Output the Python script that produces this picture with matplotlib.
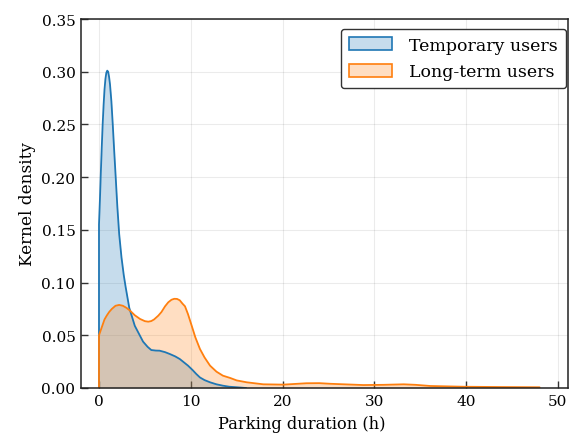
import matplotlib
matplotlib.use('Agg')
import matplotlib.pyplot as plt
from matplotlib.patches import Patch
from matplotlib.colors import to_rgba

# kernel density estimates
temp_x = [0, 0, 0.1, 0.2, 0.3, 0.4, 0.5, 0.6, 0.7, 0.8, 0.9, 1.0, 1.1, 1.2, 1.35, 1.5,
          1.65, 1.82, 2.0, 2.2, 2.45, 2.7, 2.9, 3.3, 3.9, 4.8, 5.3, 5.7, 6.2, 6.6, 7.2,
          7.7, 8.3, 8.8, 9.3, 9.7, 10.2, 10.6, 11.0, 11.5, 12.1, 12.8, 13.5, 14.2, 15.0, 16.0]
temp_y = [0, 0.155, 0.178, 0.204, 0.228, 0.250, 0.268, 0.283, 0.293, 0.299, 0.301, 0.300,
          0.295, 0.288, 0.272, 0.250, 0.226, 0.200, 0.172, 0.146, 0.124, 0.107, 0.096, 0.076,
          0.059, 0.044, 0.039, 0.036, 0.0355, 0.0354, 0.034, 0.0323, 0.030, 0.0275, 0.024,
          0.0212, 0.017, 0.0133, 0.010, 0.0075, 0.0054, 0.0035, 0.0022, 0.0012, 0.0007, 0]

long_x = [0, 0, 0.2, 0.4, 0.6, 0.84, 1.1, 1.4, 1.8, 2.2, 2.6, 3.0, 3.38, 3.9, 4.47, 5.0,
          5.37, 5.7, 6.0, 6.46, 6.8, 7.2, 7.55, 7.9, 8.2, 8.5, 8.8, 9.1, 9.37, 9.7, 10.1,
          10.5, 11.0, 11.5, 12.1, 12.8, 13.5, 14.3, 15.0, 16.1, 17.9, 20.1, 22.6, 24.0,
          25.2, 28.8, 31.0, 33.2, 34.5, 36.1, 39.7, 44.0, 48.0, 48.0]
long_y = [0, 0.050, 0.055, 0.060, 0.065, 0.0686, 0.072, 0.075, 0.078, 0.0788, 0.078,
          0.076, 0.0734, 0.069, 0.0655, 0.0634, 0.0629, 0.0635, 0.065, 0.0686, 0.072, 0.0775,
          0.0813, 0.0837, 0.0846, 0.0845, 0.0832, 0.080, 0.0775, 0.070, 0.0591, 0.048, 0.037,
          0.029, 0.0212, 0.0155, 0.0117, 0.0095, 0.0072, 0.0054, 0.0035, 0.0032, 0.0045,
          0.0046, 0.0040, 0.0028, 0.0030, 0.0035, 0.0030, 0.0019, 0.0012, 0.0009, 0.0007, 0]

labels = ['Temporary users', 'Long-term users']
colors = ['#1f77b4', '#ff7f0e']

plt.rcParams['font.family'] = 'DejaVu Serif'

fig = plt.figure(figsize=(5.69, 4.35), dpi=100)
ax = fig.add_axes([81 / 569, 46 / 435, 487 / 569, 369 / 435])

for xs, ys, c in [(temp_x, temp_y, colors[0]), (long_x, long_y, colors[1])]:
    ax.fill_between(xs, ys, 0, color=c, alpha=0.25, linewidth=0)
    ax.plot(xs, ys, color=c, linewidth=1.3)

ax.set_xlim(-1.96, 51.1)
ax.set_ylim(0, 0.35)
ax.set_xticks([0, 10, 20, 30, 40, 50])
ax.set_yticks([0, 0.05, 0.10, 0.15, 0.20, 0.25, 0.30, 0.35])
ax.yaxis.set_major_formatter(matplotlib.ticker.FormatStrFormatter('%.2f'))
ax.tick_params(direction='in', length=5, width=1, labelsize=11, colors='#333333',
               labelcolor='black', pad=4)
ax.grid(True, color='black', alpha=0.08, linewidth=0.8)
ax.set_axisbelow(True)
for s in ax.spines.values():
    s.set_color('#222222')
    s.set_linewidth(1.1)

ax.set_xlabel('Parking duration (h)', fontsize=11.7)
ax.set_ylabel('Kernel density', fontsize=12.2)
ax.xaxis.set_label_coords(0.453, -0.072)

handles = [Patch(facecolor=to_rgba(c, 0.25), edgecolor=c, linewidth=1.2) for c in colors]
leg = ax.legend(handles, labels, loc='upper right', bbox_to_anchor=(0.996, 0.973),
                borderaxespad=0, fontsize=12.5, handlelength=2.5, handleheight=0.8,
                handletextpad=1.0, labelspacing=0.55, borderpad=0.45, framealpha=1,
                fancybox=True)
leg.get_frame().set_edgecolor('#333333')
leg.get_frame().set_linewidth(1.0)

fig.savefig('out.png', dpi=100)
